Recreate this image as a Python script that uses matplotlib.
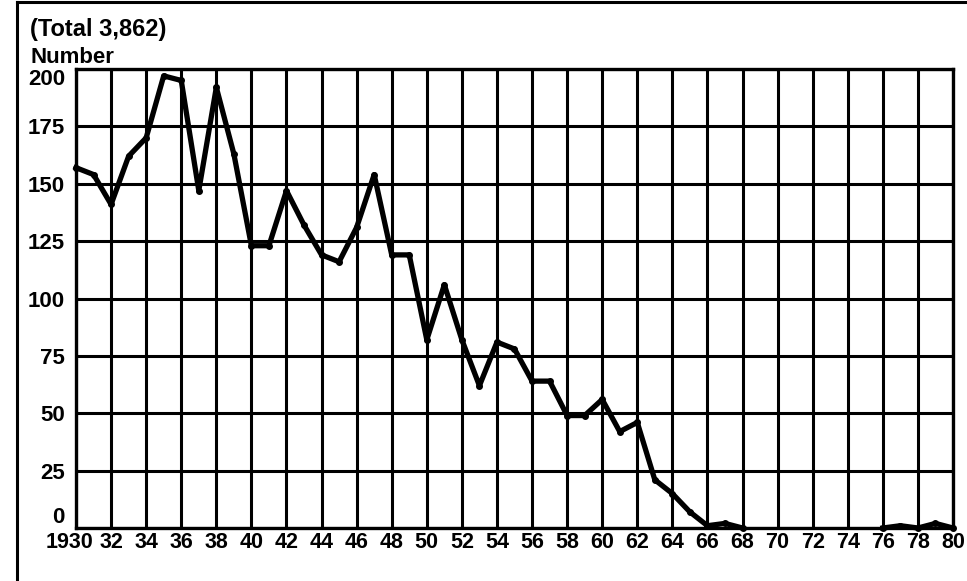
import numpy as np
import matplotlib
matplotlib.use("Agg")
import matplotlib.pyplot as plt
from matplotlib.lines import Line2D
import matplotlib.transforms as mtransforms

plt.rcParams['font.family'] = ['Liberation Sans', 'DejaVu Sans']

years = list(range(1930, 1981))
executions = [157, 154, 141, 162, 170, 197, 195, 147, 192, 163,
              123, 123, 147, 132, 119, 116, 131, 154, 119, 119,
              82, 106, 82, 62, 81, 78, 64, 64, 49, 49,
              56, 42, 46, 21, 15, 7, 1, 2, 0, np.nan,
              np.nan, np.nan, np.nan, np.nan, np.nan, np.nan, 0, 1, 0, 2,
              0]
x_ticks = list(range(1930, 1981, 2))
x_labels = ['1930'] + [str(y)[2:] for y in x_ticks[1:]]
y_ticks = [0, 25, 50, 75, 100, 125, 150, 175, 200]
title_line1 = '(Total 3,862)'
title_line2 = 'Number'

W, H = 967, 581
fig = plt.figure(figsize=(W / 100, H / 100), dpi=100)
ax = fig.add_axes([76 / W, 1 - 528 / H, (953 - 76) / W, (528 - 69) / H])

ax.plot(years, executions, color='black', lw=3.8, marker='o', ms=4,
        solid_joinstyle='round', zorder=3, clip_on=False)

ax.set_xlim(1930, 1980)
ax.set_ylim(0, 200)
ax.set_xticks(x_ticks)
ax.set_xticklabels(x_labels)
ax.set_yticks(y_ticks)
ax.grid(True, color='black', lw=2.2)
ax.set_axisbelow(True)
for s in ax.spines.values():
    s.set_linewidth(2.4)
    s.set_color('black')
ax.tick_params(length=0, labelsize=15.5, pad=3)
ax.tick_params(axis='y', pad=8, labelsize=16)
for lab in ax.get_xticklabels() + ax.get_yticklabels():
    lab.set_fontweight('bold')
first = ax.get_xticklabels()[0]
first.set_transform(first.get_transform() + mtransforms.ScaledTranslation(-6 / 100, 0, fig.dpi_scale_trans))
ylabs = ax.get_yticklabels()
ylabs[0].set_verticalalignment('bottom')
ylabs[-1].set_verticalalignment('top')

fig.text(30 / W, 1 - 36 / H, title_line1, fontsize=17, fontweight='bold', va='baseline', ha='left')
fig.text(30 / W, 1 - 63 / H, title_line2, fontsize=16, fontweight='bold', va='baseline', ha='left')

# frame (top and left edges visible)
fig.add_artist(Line2D([17 / W, 17 / W], [0, 1 - 2 / H], transform=fig.transFigure, color='black', lw=2.2))
fig.add_artist(Line2D([17 / W, 1], [1 - 2 / H, 1 - 2 / H], transform=fig.transFigure, color='black', lw=2.2))

fig.savefig('out.png', dpi=100)
